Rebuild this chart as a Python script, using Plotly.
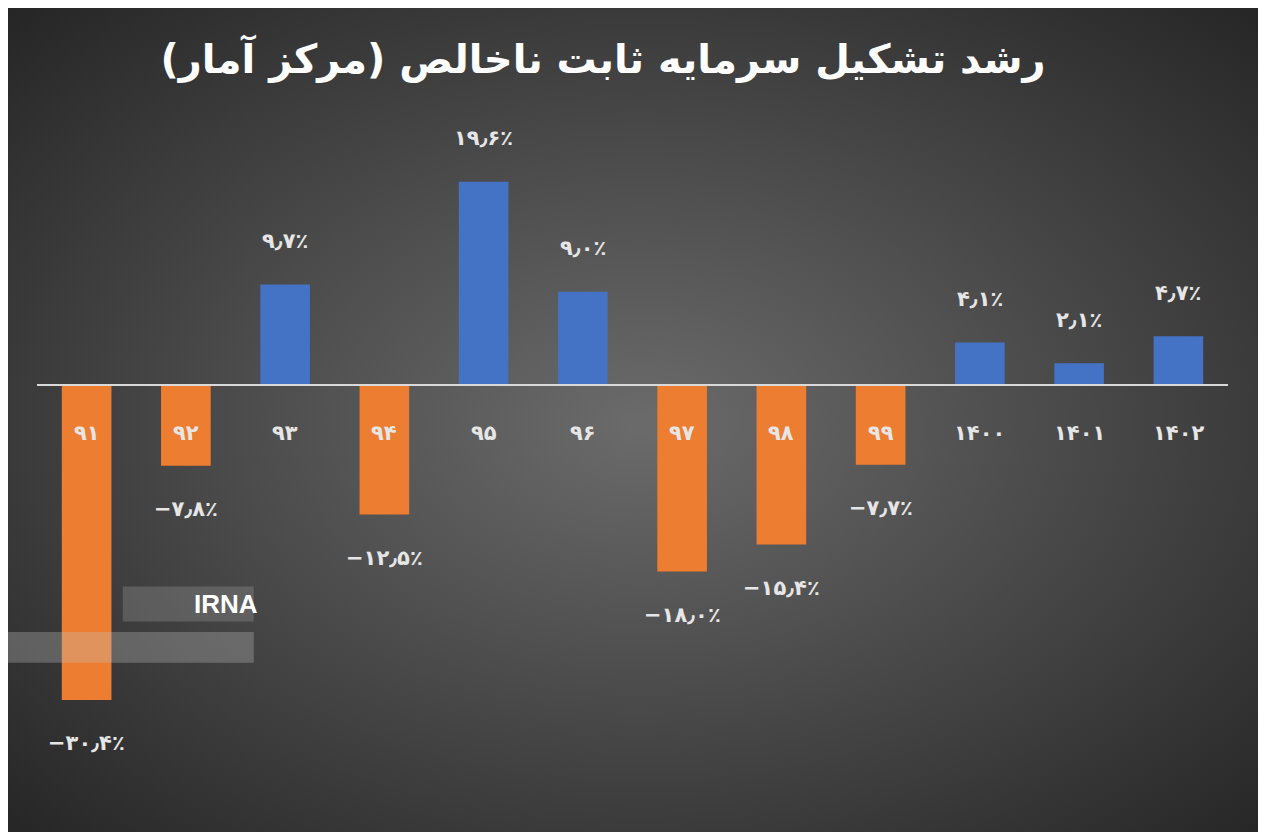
import base64
import plotly.graph_objects as go

years = ["۹۱", "۹۲", "۹۳", "۹۴", "۹۵", "۹۶", "۹۷", "۹۸", "۹۹", "۱۴۰۰", "۱۴۰۱", "۱۴۰۲"]
growth = [-30.4, -7.8, 9.7, -12.5, 19.6, 9.0, -18.0, -15.4, -7.7, 4.1, 2.1, 4.7]
labels = ["−۳۰٫۴٪", "−۷٫۸٪", "۹٫۷٪", "−۱۲٫۵٪", "۱۹٫۶٪", "۹٫۰٪",
          "−۱۸٫۰٪", "−۱۵٫۴٪", "−۷٫۷٪", "۴٫۱٪", "۲٫۱٪", "۴٫۷٪"]

blue = "#4472c4"
orange = "#ed7d31"
colors = [blue if v > 0 else orange for v in growth]

# radial gray background as an inline svg
svg = """<svg xmlns='http://www.w3.org/2000/svg' width='1266' height='832'>
<defs><radialGradient id='g' cx='50%' cy='50%' r='70%'>
<stop offset='0%' stop-color='#6b6b6b'/><stop offset='100%' stop-color='#262626'/>
</radialGradient></defs><rect width='1266' height='832' fill='url(#g)'/></svg>"""
bg = "data:image/svg+xml;base64," + base64.b64encode(svg.encode()).decode()

x = list(range(len(years)))
fig = go.Figure()
fig.add_trace(go.Bar(x=x, y=growth, marker_color=colors, width=0.5,
                     marker_line_width=0, hoverinfo="skip"))

font = "DejaVu Sans"
for i, (v, lab, yr) in enumerate(zip(growth, labels, years)):
    off = 4.2 if v > 0 else -4.2
    fig.add_annotation(x=i, y=v + off, text="<b>" + lab + "</b>", showarrow=False,
                       font=dict(family=font, size=21, color="#e6e6e6"))
    fig.add_annotation(x=i, y=-4.6, text="<b>" + yr + "</b>", showarrow=False,
                       font=dict(family=font, size=21, color="#e6e6e6"))

# zero line
fig.add_shape(type="line", xref="paper", x0=0, x1=1, y0=0, y1=0,
              line=dict(color="#d9d9d9", width=2))

# watermark
fig.add_shape(type="rect", xref="paper", yref="paper", x0=0.072, x1=0.182,
              y0=0.255, y1=0.305, fillcolor="rgba(150,150,150,0.35)", line_width=0)
fig.add_annotation(xref="paper", yref="paper", x=0.13, y=0.28, yanchor="middle",
                   text="<b>IRNA</b>", showarrow=False,
                   font=dict(family="Liberation Sans", size=26, color="white"))
fig.add_shape(type="rect", xref="paper", yref="paper", x0=-0.031, x1=0.182,
              y0=0.196, y1=0.24, fillcolor="rgba(200,200,200,0.3)", line_width=0)

fig.add_layout_image(dict(source=bg, xref="paper", yref="paper", x=-29 / 1191, y=1 + 92 / 700,
                          sizex=1266 / 1191, sizey=832 / 700, sizing="stretch", layer="below",
                          xanchor="left", yanchor="top"))

fig.update_layout(
    width=1266, height=832,
    margin=dict(l=29, r=46, t=92, b=40),
    paper_bgcolor="#2e2e2e", plot_bgcolor="rgba(0,0,0,0)",
    showlegend=False,
    title=dict(text="<b>رشد تشکیل سرمایه ثابت ناخالص (مرکز آمار)</b>", x=0.47, y=0.955,
               xanchor="center", font=dict(family=font, size=40, color="white")),
    xaxis=dict(range=[-0.5, 11.5], visible=False),
    yaxis=dict(range=[-40.06, 27.5], visible=False),
)

fig.write_html("out.html")
